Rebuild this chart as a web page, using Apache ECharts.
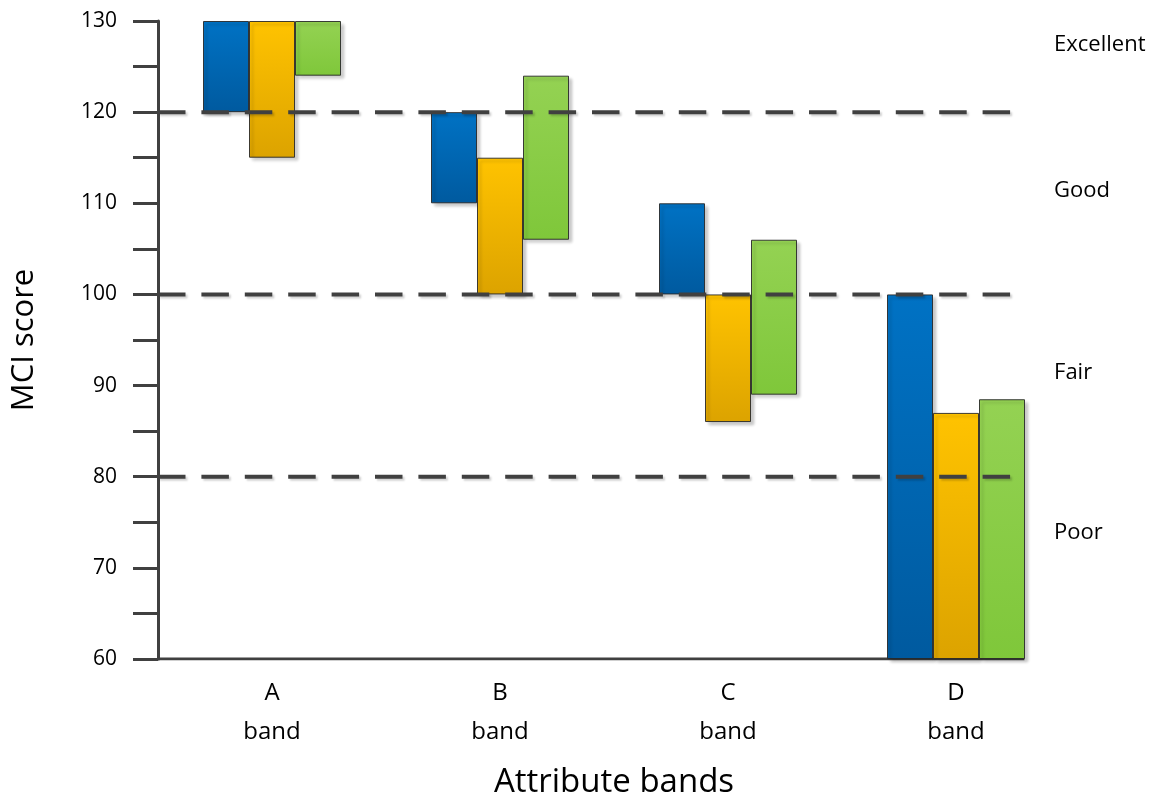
<!DOCTYPE html>
<html>
<head>
<meta charset="utf-8">
<script src="https://cdn.jsdelivr.net/npm/echarts@6/dist/echarts.min.js"></script>
<style>
  html, body { margin: 0; padding: 0; background: #fff; }
  #chart { width: 1151px; height: 798px; }
</style>
</head>
<body>
<div id="chart"></div>
<script>
// Score ranges per attribute band (low / high end of each floating bar)
const categories = ['A band', 'B band', 'C band', 'D band'];
const blueLow    = [120, 110, 100, 60];
const blueHigh   = [130, 120, 110, 100];
const orangeLow  = [115, 100, 86, 60];
const orangeHigh = [130, 115, 100, 87];
const greenLow   = [124, 106, 89, 60];
const greenHigh  = [130, 124, 106, 88.5];

// Quality thresholds drawn as dashed lines
const thresholds = [120, 100, 80];
// Quality class names and the score level they are written at
const classNames  = ['Excellent', 'Good', 'Fair', 'Poor'];
const classLevels = [127.4, 111.4, 91.4, 73.8];

const FONT = 'Open Sans';
const INK = '#404040';
const TEXT = '#000';

function grad(top, bottom) {
  return new echarts.graphic.LinearGradient(0, 0, 0, 1, [
    { offset: 0, color: top },
    { offset: 1, color: bottom }
  ]);
}

const groups = [
  { key: 'blue',   low: blueLow,   high: blueHigh,   fill: grad('#0072C4', '#005A9F') },
  { key: 'orange', low: orangeLow, high: orangeHigh, fill: grad('#FFC300', '#DCA300') },
  { key: 'green',  low: greenLow,  high: greenHigh,  fill: grad('#94D253', '#7FC73A') }
];

const series = [];
groups.forEach(g => {
  // invisible base that lifts each bar to its low value
  series.push({
    type: 'bar', stack: g.key, barWidth: 46, barGap: '0%',
    data: g.low, itemStyle: { color: 'transparent' }, silent: true, z: 2
  });
  series.push({
    type: 'bar', stack: g.key, barWidth: 46, barGap: '0%',
    data: g.high.map((h, i) => h - g.low[i]),
    itemStyle: {
      color: g.fill, borderColor: 'rgba(40,40,40,0.9)', borderWidth: 1,
      shadowColor: 'rgba(0,0,0,0.22)', shadowBlur: 3, shadowOffsetX: 3, shadowOffsetY: 3
    },
    z: 2
  });
});

// horizontal axis baseline, ending at the last bar group
series.push({
  type: 'line', xAxisIndex: 1, symbol: 'none', silent: true, z: 1,
  data: [[0, 60], [3.8, 60]],
  lineStyle: { color: INK, width: 3 }
});

// dashed threshold lines
thresholds.forEach(t => {
  series.push({
    type: 'line', xAxisIndex: 1, symbol: 'none', silent: true, z: 6,
    data: [[0, t], [3.75, t]],
    lineStyle: {
      color: INK, width: 4, type: [27.5, 15.9], cap: 'butt',
      shadowColor: 'rgba(0,0,0,0.18)', shadowBlur: 2, shadowOffsetX: 2, shadowOffsetY: 2
    }
  });
});

// class names at the right-hand side
series.push({
  type: 'scatter', xAxisIndex: 1, symbolSize: 0, silent: true, z: 7,
  itemStyle: { opacity: 1 },
  data: classNames.map((n, i) => [3.93, classLevels[i], n]),
  label: {
    show: true, position: 'right', distance: 0, align: 'left', opacity: 1,
    formatter: p => p.data[2],
    fontFamily: FONT, fontSize: 22, color: TEXT
  }
});

const chart = echarts.init(document.getElementById('chart'), null, { renderer: 'canvas' });
chart.setOption({
  backgroundColor: '#fff',
  animation: false,
  grid: { left: 158, top: 21, right: 81, bottom: 139, containLabel: false, outerBoundsMode: 'none' },
  xAxis: [
    {
      type: 'category', data: categories, boundaryGap: true,
      axisLine: { show: false }, axisTick: { show: false }, splitLine: { show: false },
      axisLabel: {
        margin: 15, fontFamily: FONT, fontSize: 24, color: TEXT, lineHeight: 39,
        formatter: v => v.split(' ').join('\n')
      },
      name: 'Attribute bands', nameLocation: 'middle', nameGap: 107,
      nameTextStyle: { fontFamily: FONT, fontSize: 33, color: TEXT }
    },
    { type: 'value', min: 0, max: 4, show: false }
  ],
  yAxis: {
    type: 'value', min: 60, max: 130, interval: 5,
    axisLine: { show: true, lineStyle: { color: INK, width: 3 } },
    axisTick: { show: true, inside: false, length: 25, lineStyle: { color: INK, width: 3 } },
    splitLine: { show: false },
    axisLabel: {
      margin: 41, fontFamily: FONT, fontSize: 21, color: TEXT,
      formatter: v => (v % 10 === 0 ? String(v) : '')
    },
    name: 'MCI score', nameLocation: 'middle', nameGap: 118, nameRotate: 90,
    nameTextStyle: { fontFamily: FONT, fontSize: 31, color: TEXT }
  },
  series: series
});
</script>
</body>
</html>
